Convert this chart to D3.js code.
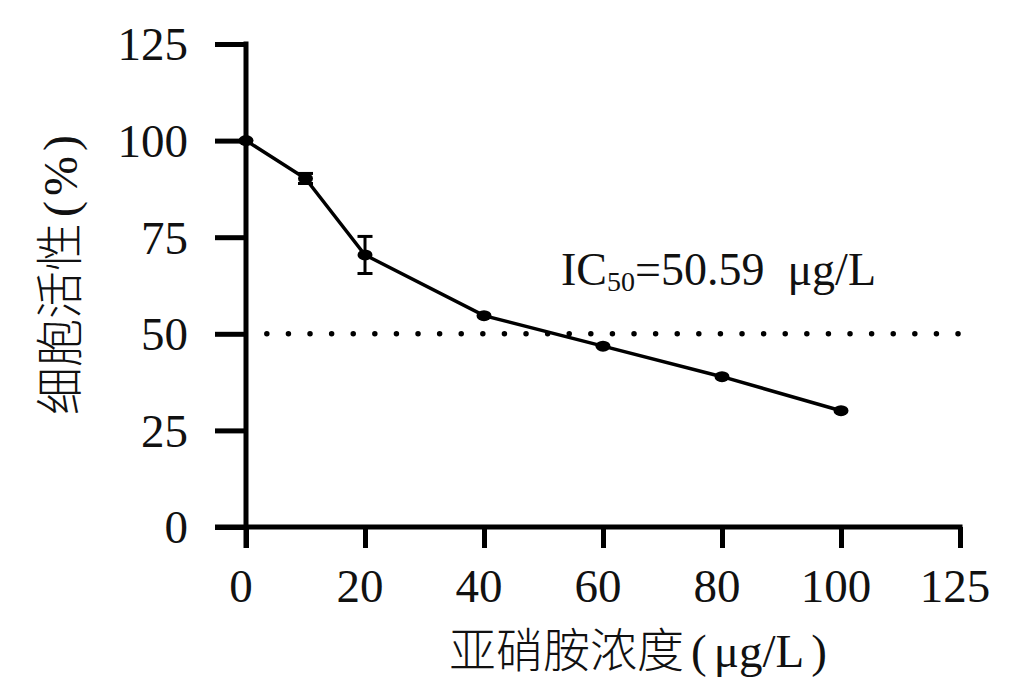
<!DOCTYPE html>
<html>
<head>
<meta charset="utf-8">
<script src="https://cdn.jsdelivr.net/npm/d3@7"></script>
<style>
  html, body { margin: 0; padding: 0; background: #fff; }
  svg { display: block; }
  text { fill: #111; }
</style>
</head>
<body>
<script>
// ---- data ----
const concentrations = [0, 10, 20, 40, 60, 80, 100];
const viability      = [100, 90.2, 70.4, 54.7, 46.8, 38.9, 30.1];
const errorSD        = [0, 1.3, 4.8, 0, 0, 0, 0];
const xTickValues    = [0, 20, 40, 60, 80, 100, 120];
const xTickLabels    = ["0", "20", "40", "60", "80", "100", "125"];
const yTickValues    = [0, 25, 50, 75, 100, 125];
const ic50Reference  = 50;
const ic50Text       = { main: "IC", sub: "50", rest: "=50.59  μg/L" };
const xTitle         = { cjk: "亚硝胺浓度", unit: "μg/L" };
const yTitle         = { cjk: "细胞活性", unit: "%" };

const W = 1019, H = 695;
const serif = "'Liberation Serif', 'Times New Roman', serif";
const cjk = "'Noto Sans CJK SC', 'Noto Sans CJK JP', sans-serif";

const svg = d3.select("body").append("svg").attr("width", W).attr("height", H);
svg.append("rect").attr("width", W).attr("height", H).attr("fill", "#fff");

const x = d3.scaleLinear().domain([0, 120]).range([246, 960]);
const y = d3.scaleLinear().domain([0, 125]).range([527, 44]);

const axisW = 5;
const tickLenY = 31, tickLenX = 21;

// Y axis
const yAxis = svg.append("g")
  .attr("transform", `translate(${x(0)},0)`)
  .call(d3.axisLeft(y).tickValues(yTickValues).tickSize(tickLenY).tickSizeOuter(0).tickPadding(27));
yAxis.select(".domain").remove();
yAxis.selectAll(".tick line").attr("stroke", "#000").attr("stroke-width", axisW);
yAxis.selectAll(".tick text")
  .attr("font-family", serif).attr("font-size", 47).attr("fill", "#111")
  .attr("dy", "0.34em");

// X axis
const xAxis = svg.append("g")
  .attr("transform", `translate(0,${y(0)})`)
  .call(d3.axisBottom(x).tickValues(xTickValues).tickFormat((d, i) => xTickLabels[i])
    .tickSize(tickLenX).tickSizeOuter(0).tickPadding(20));
xAxis.select(".domain").remove();
xAxis.selectAll(".tick line").attr("stroke", "#000").attr("stroke-width", axisW);
xAxis.selectAll(".tick text")
  .attr("font-family", serif).attr("font-size", 47).attr("fill", "#111")
  .attr("dx", "-0.12em").attr("dy", "0.72em");

// axis lines
svg.append("line")
  .attr("x1", x(0)).attr("x2", x(0))
  .attr("y1", y(125) - axisW / 2).attr("y2", y(0) + tickLenX)
  .attr("stroke", "#000").attr("stroke-width", axisW);
svg.append("line")
  .attr("x1", x(0) - tickLenY).attr("x2", x(120) + axisW / 2)
  .attr("y1", y(0)).attr("y2", y(0))
  .attr("stroke", "#000").attr("stroke-width", axisW);

// IC50 dotted reference line
svg.append("line")
  .attr("x1", x(3.5)).attr("x2", x(120))
  .attr("y1", y(ic50Reference)).attr("y2", y(ic50Reference))
  .attr("stroke", "#000").attr("stroke-width", 5.5)
  .attr("stroke-linecap", "round").attr("stroke-dasharray", "0 21.6");

// data
const pts = concentrations.map((c, i) => ({ x: c, y: viability[i], e: errorSD[i] }));

svg.append("path")
  .datum(pts)
  .attr("fill", "none").attr("stroke", "#000").attr("stroke-width", 3.5)
  .attr("d", d3.line().x(d => x(d.x)).y(d => y(d.y)));

const eb = svg.append("g").attr("stroke", "#000").attr("stroke-width", 3);
pts.filter(d => d.e > 0).forEach(d => {
  eb.append("line").attr("x1", x(d.x)).attr("x2", x(d.x))
    .attr("y1", y(d.y - d.e)).attr("y2", y(d.y + d.e));
  [d.y - d.e, d.y + d.e].forEach(v => {
    eb.append("line").attr("x1", x(d.x) - 7.5).attr("x2", x(d.x) + 7.5)
      .attr("y1", y(v)).attr("y2", y(v));
  });
});

svg.append("g").selectAll("ellipse").data(pts).join("ellipse")
  .attr("cx", d => x(d.x)).attr("cy", d => y(d.y))
  .attr("rx", 7.5).attr("ry", 5.5).attr("fill", "#000");

// IC50 label
const ic = svg.append("text")
  .attr("x", 561).attr("y", 285)
  .attr("font-family", serif).attr("font-size", 46).attr("fill", "#111");
ic.append("tspan").text(ic50Text.main);
ic.append("tspan").attr("font-size", 28).attr("dy", 6).text(ic50Text.sub);
ic.append("tspan").attr("dy", -6).attr("style", "white-space:pre").text(ic50Text.rest);

// X title
const xt = svg.append("text")
  .attr("x", 638).attr("y", 667).attr("text-anchor", "middle")
  .attr("font-size", 47).attr("fill", "#111");
xt.append("tspan").attr("font-family", cjk).attr("font-weight", 300).text(xTitle.cjk);
xt.append("tspan").attr("font-family", serif).attr("dx", 7).text("(");
xt.append("tspan").attr("font-family", serif).attr("dx", 7).text(xTitle.unit);
xt.append("tspan").attr("font-family", serif).attr("dx", 7).text(")");

// Y title
const yt = svg.append("text")
  .attr("transform", "translate(77,275) rotate(-90)").attr("text-anchor", "middle")
  .attr("font-size", 48).attr("fill", "#111");
yt.append("tspan").attr("font-family", cjk).attr("font-weight", 300).text(yTitle.cjk);
yt.append("tspan").attr("font-family", serif).attr("dx", 6).text("(");
yt.append("tspan").attr("font-family", serif).attr("dx", 5).text(yTitle.unit);
yt.append("tspan").attr("font-family", serif).attr("dx", 5).text(")");
</script>
</body>
</html>
